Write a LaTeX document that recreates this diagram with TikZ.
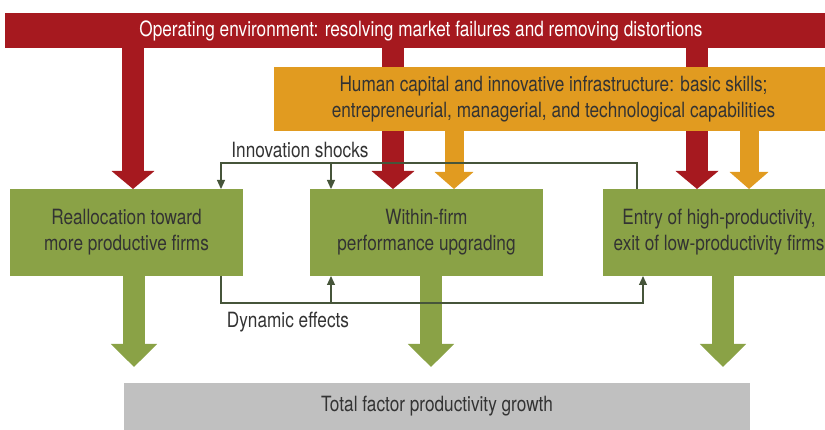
\documentclass[tikz,border=0pt]{standalone}
\usepackage{fontspec}
\setmainfont{TeX Gyre Heros}[FakeStretch=0.82]
\usetikzlibrary{arrows.meta}
\definecolor{cred}{HTML}{A6191F}
\definecolor{corange}{HTML}{E19B20}
\definecolor{cgreen}{HTML}{8AA246}
\definecolor{cgray}{HTML}{C0C0C0}
\definecolor{cline}{HTML}{46553A}
\definecolor{ctext}{HTML}{333333}
\begin{document}
\begin{tikzpicture}[x=1pt,y=-1pt,
  every node/.style={font=\fontsize{21}{26}\selectfont, inner sep=0pt, outer sep=0pt},
  box/.style={rectangle, anchor=north west, align=center, text=ctext},
  redblock/.style={draw=cred, line width=22pt, -{Triangle[width=42pt,length=18pt]}},
  orangeblock/.style={draw=corange, line width=19pt, -{Triangle[width=38pt,length=17pt]}},
  greenblock/.style={draw=cgreen, line width=22pt, -{Triangle[width=45pt,length=23pt]}},
  conn/.style={draw=cline, line width=1.2pt},
  conntip/.style={conn, -{Triangle[width=8pt,length=9pt]}},
  lbl/.style={text=ctext}]
\useasboundingbox (0,0) rectangle (825,430);
% x positions
\coordinate (r1) at (133,0);
\coordinate (r2) at (393,0);
\coordinate (r3) at (697,0);
\coordinate (o2) at (454,0);
\coordinate (o3) at (749,0);
\coordinate (g1) at (134,0);
\coordinate (g2) at (431,0);
\coordinate (g3) at (723,0);
\coordinate (i1) at (221,0);
\coordinate (i2) at (331,0);
\coordinate (i3) at (637,0);
\coordinate (d3) at (643,0);
\coordinate (itop) at (0,163);
\coordinate (dbot) at (0,303);
% nodes
\node[box, fill=cred, text=white, minimum width=820pt, minimum height=35pt] (env) at (5,13)
  {\hspace*{12pt}Operating environment: resolving market failures and removing distortions};
\node[box, fill=cgreen, minimum width=233pt, minimum height=87pt] (A) at (10,189)
  {Reallocation toward\\more productive firms};
\node[box, fill=cgreen, minimum width=233pt, minimum height=87pt] (B) at (310,189)
  {Within-firm\\performance upgrading};
\node[box, fill=cgreen, minimum width=222pt, minimum height=87pt] (C) at (603,189)
  {\hspace*{10pt}Entry of high-productivity,\\\hspace*{10pt}exit of low-productivity firms};
\node[box, fill=cgray, minimum width=626pt, minimum height=47pt] (T) at (124,383)
  {Total factor productivity growth};
% red block arrows (behind the orange box)
\draw[redblock] (env.south -| r1) -- (A.north -| r1);
\draw[redblock] (env.south -| r2) -- (B.north -| r2);
\draw[redblock] (env.south -| r3) -- (C.north -| r3);
\node[box, fill=corange, minimum width=551pt, minimum height=64pt] (H) at (274,67)
  {\hspace*{8pt}Human capital and innovative infrastructure: basic skills;\\\hspace*{8pt}entrepreneurial, managerial, and technological capabilities};
\draw[orangeblock] (H.south -| o2) -- (B.north -| o2);
\draw[orangeblock] (H.south -| o3) -- (C.north -| o3);
% green block arrows
\draw[greenblock] (A.south -| g1) -- ([yshift=16pt]T.north -| g1);
\draw[greenblock] (B.south -| g2) -- ([yshift=16pt]T.north -| g2);
\draw[greenblock] (C.south -| g3) -- ([yshift=16pt]T.north -| g3);
% innovation shocks
\draw[conntip] (C.north -| i3) -- (i3 |- itop) -| (A.north -| i1);
\draw[conntip] (i2 |- itop) -- (B.north -| i2);
\node[lbl] (lI) at (300,150) {Innovation shocks};
% dynamic effects
\draw[conntip] (A.south -| i1) -- (i1 |- dbot) -| (C.south -| d3);
\draw[conntip] (i2 |- dbot) -- (B.south -| i2);
\node[lbl] (lD) at (288,322) {Dynamic effects};
\end{tikzpicture}
\end{document}
